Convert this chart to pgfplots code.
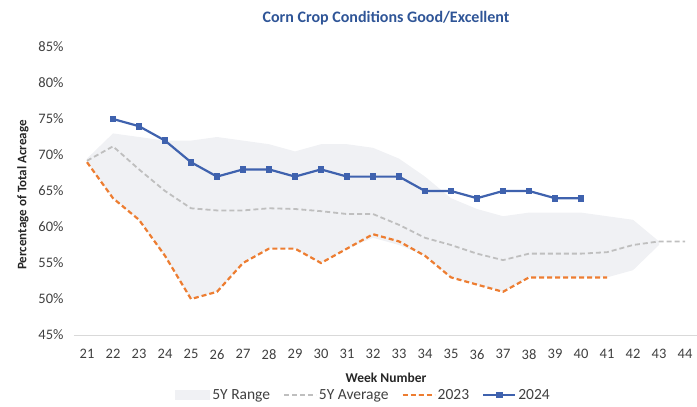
\documentclass[border=0pt]{standalone}
\usepackage{fontspec}
\setmainfont{Carlito}
\usepackage{pgfplots}
\pgfplotsset{compat=1.18}
\definecolor{band}{HTML}{F0F1F4}
\definecolor{avgc}{HTML}{BFBFBF}
\definecolor{c23}{HTML}{ED7D31}
\definecolor{c24}{HTML}{3F62AE}
\definecolor{titlec}{HTML}{2F5597}
\definecolor{txt}{HTML}{404040}
\begin{document}
\begin{tikzpicture}
\begin{axis}[
  scale only axis, width=624pt, height=288pt,
  xmin=20.5, xmax=44.5, ymin=45, ymax=85,
  xtick={21,...,44}, ytick={45,50,...,85},
  axis x line*=bottom, axis y line*=left,
  y axis line style={draw=none},
  x axis line style={draw=black!15, line width=0.8pt},
  major tick length=0pt,
  /pgf/number format/assume math mode=true,
  yticklabel={\pgfmathprintnumber{\tick}\%},
  ticklabel style={font=\fontsize{14.5}{16}\selectfont, text=txt},
  xticklabel style={yshift=-11pt},
  yticklabel style={xshift=-7pt},
  xlabel={Week Number}, ylabel={Percentage of Total Acreage},
  xlabel style={font=\bfseries\fontsize{13.5}{15}\selectfont, text=black!85,
    at={(axis description cs:0.5,0)}, anchor=center, yshift=-43pt},
  ylabel style={font=\bfseries\fontsize{13}{15}\selectfont, text=black!85,
    at={(axis description cs:0,0.5)}, anchor=center, yshift=51pt, xshift=-4pt},
  title={Corn Crop Conditions Good/Excellent},
  title style={font=\bfseries\fontsize{16}{19}\selectfont, text=titlec,
    at={(axis description cs:0.5,1)}, anchor=center, yshift=23pt},
  legend columns=-1,
  legend style={at={(0.464,-0.208)}, anchor=center, draw=none, fill=none,
    font=\fontsize{15.5}{17}\selectfont, text=txt, inner sep=0pt,
    /tikz/every even column/.append style={column sep=11pt}},
  legend image code/.code={\draw[mark repeat=2,mark phase=2] plot coordinates {(0pt,0pt) (16pt,0pt) (32pt,0pt)};},
]
\addplot[fill=band, draw=none, area legend,
  legend image code/.code={\fill[band] (0pt,-5pt) rectangle (35pt,5pt);}] coordinates {
  (21,69.5) (22,73) (23,72.5) (24,72) (25,72) (26,72.5) (27,72) (28,71.5) (29,70.5)
  (30,71.5) (31,71.5) (32,71) (33,69.5) (34,67) (35,64) (36,62.5) (37,61.5) (38,62)
  (39,62) (40,62) (41,61.5) (42,61) (43,58)
  (43,57.5) (42,54) (41,53) (40,53) (39,53) (38,53) (37,51) (36,52) (35,53) (34,56)
  (33,57.5) (32,58.5) (31,57) (30,55) (29,57) (28,57) (27,55) (26,51) (25,50) (24,56)
  (23,61) (22,64) (21,69)} -- cycle;
\addlegendentry{5Y Range}
\addplot[avgc, line width=1.8pt, dash pattern=on 5pt off 3pt] coordinates {
  (21,69.2) (22,71.2) (23,68) (24,65) (25,62.6) (26,62.3) (27,62.3) (28,62.6) (29,62.5)
  (30,62.2) (31,61.8) (32,61.8) (33,60.3) (34,58.5) (35,57.5) (36,56.3) (37,55.4)
  (38,56.3) (39,56.3) (40,56.3) (41,56.5) (42,57.5) (43,58) (44,58)};
\addlegendentry{5Y Average}
\addplot[c23, line width=2.2pt, dash pattern=on 5pt off 3pt] coordinates {
  (21,69) (22,64) (23,61) (24,56) (25,50) (26,51) (27,55) (28,57) (29,57) (30,55)
  (31,57) (32,59) (33,58) (34,56) (35,53) (36,52) (37,51) (38,53) (39,53) (40,53) (41,53)};
\addlegendentry{2023}
\addplot[c24, line width=2.2pt, mark=square*, mark size=2.3pt] coordinates {
  (22,75) (23,74) (24,72) (25,69) (26,67) (27,68) (28,68) (29,67) (30,68) (31,67)
  (32,67) (33,67) (34,65) (35,65) (36,64) (37,65) (38,65) (39,64) (40,64)};
\addlegendentry{2024}
\end{axis}
\pgfresetboundingbox
\path (current axis.south west) ++(-74pt,-71pt) rectangle ([shift={(-1pt,47pt)}]current axis.north east);
\end{tikzpicture}
\end{document}
